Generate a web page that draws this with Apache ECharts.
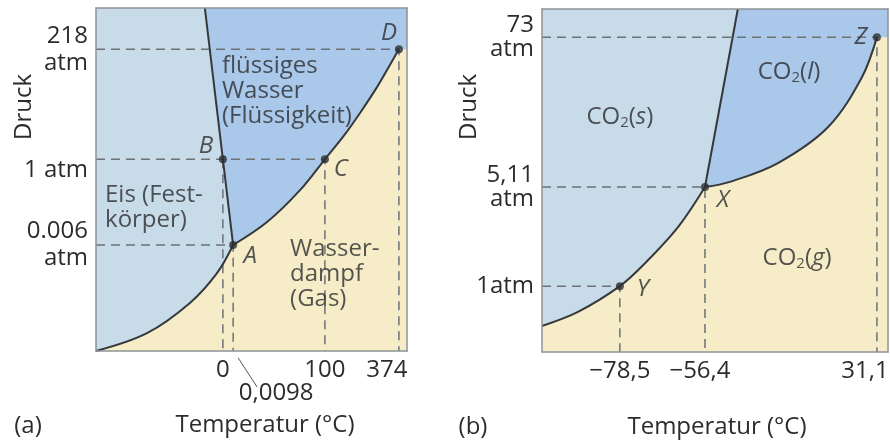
<!DOCTYPE html>
<html><head><meta charset="utf-8">
<script src="https://cdn.jsdelivr.net/npm/echarts@6/dist/echarts.min.js"></script>
<style>html,body{margin:0;padding:0;background:#fff}#c{width:890px;height:445px}</style>
</head><body><div id="c"></div>
<script>
// Schematic phase diagrams (not to scale): both axes run over a schematic 0..100 range.
const X_MIN = 0, X_MAX = 100, Y_MIN = 0, Y_MAX = 100;

// ---------- (a) Wasser ----------
const waterXTickValues = [40.8, 44.1, 73.6, 97.4];
const waterXTickLabels = ['0', '0,0098', '100', '374'];
const waterYTickValues = [30.9, 55.9, 88.0];
const waterYTickLabels = ['0.006\natm', '1 atm', '218\natm'];
const waterPointNames = ['A', 'B', 'C', 'D'];
const waterPoints = [[44.1, 30.9], [40.8, 55.9], [73.6, 55.9], [97.4, 88.0]];
const waterMeltCurve = [[35.0, 100], [40.8, 55.9], [44.1, 30.9]];
const waterSublimationCurve = [[0, 0], [16.4, 5.2], [30.2, 14.0], [38.9, 22.7], [44.1, 30.9]];
const waterVaporCurve = [[44.1, 30.9], [55.0, 37.6], [65.6, 46.9], [73.6, 55.9], [79.4, 62.4], [84.9, 69.4], [90.4, 77.0], [94.5, 83.4], [97.4, 88.0]];
const waterRegionNames = ['flüssiges\nWasser\n(Flüssigkeit)', 'Eis (Fest-\nkörper)', 'Wasser-\ndampf\n(Gas)'];
const waterRegionPos = [[40.5, 75.8], [2.9, 41.7], [62.4, 22.4]];
const waterLeader = [[45.7, -2.0], [51.8, -10.5]];

// ---------- (b) CO2 ----------
const co2XTickValues = [22.5, 47.1, 96.8];
const co2XTickLabels = ['\u221278,5', '\u221256,4', '31,1'];
const co2YTickValues = [19.2, 48.1, 91.8];
const co2YTickLabels = ['1atm', '5,11\natm', '73\natm'];
const co2PointNames = ['Y', 'X', 'Z'];
const co2Points = [[22.5, 19.2], [47.1, 48.1], [96.8, 91.8]];
const co2MeltCurve = [[47.1, 48.1], [56.6, 100]];
const co2SublimationCurve = [[0, 7.6], [10.4, 11.7], [22.5, 19.2], [29.8, 25.9], [39.3, 36.4], [47.1, 48.1]];
const co2VaporCurve = [[47.1, 48.1], [54.3, 49.6], [68.2, 55.1], [82.7, 65.6], [92.5, 80.2], [96.8, 91.8]];
const co2RegionNames = ['CO{sub|2}({it|s})', 'CO{sub|2}({it|l})', 'CO{sub|2}({it|g})'];
const co2RegionPos = [[22.5, 68.5], [71.4, 81.6], [73.7, 27.4]];

// ---------- styles ----------
const FONT = '"Open Sans", "DejaVu Sans", sans-serif';
const ICE = '#c8dbe8', LIQUID = '#a9c8ea', GAS = '#f6edc8';
const CURVE = '#36383b', DASH = '#6c7176', BORDER = '#8d9297', TEXT = '#2a2c2e';
const FS = 24;

const pointLabelOffset = { A: [17, 11], B: [-17, -13], C: [16, 10], D: [-10, -16], X: [18, 13], Y: [23, 3], Z: [-16, 0] };
const waterXRich = { '0,0098': 'low', '374': 'shl' };
const waterYRich = { '1 atm': 'dn' };
const co2XRich = { '\u221256,4': 'shs', '31,1': 'shl' };

function labelFmt(values, labels, richMap) {
  return function (v) {
    let i = values.indexOf(v);
    if (i < 0) { i = values.findIndex(t => Math.abs(t - v) < 1e-6); }
    if (i < 0) return '';
    const k = richMap[labels[i]];
    return k ? '{' + k + '|' + labels[i] + '}' : labels[i];
  };
}
const labelRich = {
  low: { fontSize: FS, fontFamily: FONT, color: TEXT, padding: [23, 0, 0, 86] },
  shl: { fontSize: FS, fontFamily: FONT, color: TEXT, padding: [0, 24, 0, 0] },
  shs: { fontSize: FS, fontFamily: FONT, color: TEXT, padding: [0, 10, 0, 0] },
  dn: { fontSize: FS, fontFamily: FONT, color: TEXT, padding: [22, 0, 0, 0] }
};

function mainX(grid, vals, labels, richMap) {
  return {
    gridIndex: grid, type: 'value', min: X_MIN, max: X_MAX, position: 'bottom', z: 10,
    axisLine: { show: true, onZero: false, lineStyle: { color: BORDER, width: 1.5 } },
    axisTick: { show: false }, splitLine: { show: false },
    axisLabel: { customValues: vals, formatter: labelFmt(vals, labels, richMap), margin: 7,
      fontSize: FS, fontFamily: FONT, color: TEXT, rich: labelRich, hideOverlap: false }
  };
}
function mainY(grid, vals, labels, richMap, lh) {
  return {
    gridIndex: grid, type: 'value', min: Y_MIN, max: Y_MAX, position: 'left', z: 10,
    axisLine: { show: true, onZero: false, lineStyle: { color: BORDER, width: 1.5 } },
    axisTick: { show: false }, splitLine: { show: false },
    axisLabel: { customValues: vals, formatter: labelFmt(vals, labels, richMap), margin: 8,
      fontSize: FS, fontFamily: FONT, color: TEXT, lineHeight: lh, align: 'right', rich: labelRich, hideOverlap: false }
  };
}
function frameAxis(kind, grid, pos) {
  return {
    gridIndex: grid, type: 'value', position: pos, z: 10,
    min: kind === 'x' ? X_MIN : Y_MIN, max: kind === 'x' ? X_MAX : Y_MAX,
    axisLine: { show: true, onZero: false, lineStyle: { color: BORDER, width: 1.5 } },
    axisTick: { show: false }, axisLabel: { show: false }, splitLine: { show: false }
  };
}

function lPath(p) { return [[X_MIN, p[1]], p, [p[0], Y_MIN]]; }
function vPath(p) { return [p, [p[0], Y_MIN]]; }

const SMOOTH = 0.35;

function panelSeries(g, d) {
  const base = { xAxisIndex: g, yAxisIndex: g, silent: true, symbol: 'none', animation: false };
  const s = [];
  // liquid region
  s.push(Object.assign({}, base, { type: 'line', z: 1, data: d.liquid,
    lineStyle: { width: 0 }, areaStyle: { color: LIQUID, opacity: 1, origin: d.liquidOrigin } }));
  // gas region (below sublimation + vaporisation curves)
  [d.sub, d.vap].forEach(c => s.push(Object.assign({}, base, { type: 'line', z: 2, data: c, smooth: SMOOTH,
    lineStyle: { width: 0 }, areaStyle: { color: GAS, opacity: 1, origin: 'start' } })));
  const crit = d.points[d.points.length - 1];
  s.push(Object.assign({}, base, { type: 'line', z: 2, data: [crit, [X_MAX, crit[1]]],
    lineStyle: { width: 0 }, areaStyle: { color: GAS, opacity: 1, origin: 'start' } }));
  // dashed guides
  d.dashed.forEach(path => s.push(Object.assign({}, base, { type: 'line', z: 3, data: path,
    lineStyle: { color: DASH, width: 1.5, type: [9, 6] } })));
  // phase boundaries
  [d.sub, d.vap].forEach(c => s.push(Object.assign({}, base, { type: 'line', z: 4, data: c, smooth: SMOOTH,
    lineStyle: { color: CURVE, width: 2 } })));
  s.push(Object.assign({}, base, { type: 'line', z: 4, data: d.melt, lineStyle: { color: CURVE, width: 2 } }));
  // points with letters
  s.push({ type: 'scatter', xAxisIndex: g, yAxisIndex: g, silent: true, z: 5, animation: false,
    symbol: 'circle', symbolSize: 8, itemStyle: { color: '#2c2e30' },
    data: d.points.map((p, i) => ({ value: p, name: d.names[i],
      label: { offset: pointLabelOffset[d.names[i]] } })),
    label: { show: true, position: 'inside', formatter: '{b}', fontSize: FS, fontStyle: 'italic',
      fontFamily: FONT, color: TEXT } });
  // region names
  s.push({ type: 'scatter', xAxisIndex: g, yAxisIndex: g, silent: true, z: 6, animation: false,
    symbolSize: 0, itemStyle: { color: 'transparent' },
    data: d.regionPos.map((p, i) => ({ value: p, name: d.regionNames[i] })),
    label: { show: true, position: 'inside', formatter: '{b}', align: d.regionAlign, verticalAlign: 'middle',
      fontSize: FS, lineHeight: 25, fontFamily: FONT, color: TEXT,
      rich: { sub: { fontSize: 15, fontFamily: FONT, color: TEXT, padding: [12, 0, 0, 0] },
              it: { fontSize: FS, fontFamily: FONT, color: TEXT, fontStyle: 'italic' } } } });
  return s;
}

const series = [].concat(
  panelSeries(0, {
    liquid: waterMeltCurve.concat([[waterPoints[0][0], Y_MIN], [X_MAX, Y_MIN]]), liquidOrigin: 'end',
    sub: waterSublimationCurve, vap: waterVaporCurve, melt: waterMeltCurve,
    points: waterPoints, names: waterPointNames,
    dashed: [lPath(waterPoints[3]), lPath(waterPoints[2]), vPath(waterPoints[1]), lPath(waterPoints[0])],
    regionNames: waterRegionNames, regionPos: waterRegionPos, regionAlign: 'left'
  }),
  panelSeries(1, {
    liquid: co2MeltCurve.concat([[X_MAX, Y_MAX]]), liquidOrigin: 'start',
    sub: co2SublimationCurve, vap: co2VaporCurve, melt: co2MeltCurve,
    points: co2Points, names: co2PointNames,
    dashed: co2Points.map(lPath),
    regionNames: co2RegionNames, regionPos: co2RegionPos, regionAlign: 'center'
  }),
  [{ type: 'line', xAxisIndex: 0, yAxisIndex: 0, silent: true, symbol: 'none', clip: false, z: 5,
     data: waterLeader, lineStyle: { color: '#555', width: 1 }, animation: false }]
);

function gText(text, x, y, extra) {
  return Object.assign({ type: 'text', x: x, y: y, silent: true, z: 20,
    style: { text: text, fontSize: FS, fontFamily: FONT, fill: TEXT,
      align: 'center', verticalAlign: 'middle', textAlign: 'center', textVerticalAlign: 'middle' } }, extra || {});
}

const chart = echarts.init(document.getElementById('c'), null, { renderer: 'canvas' });
chart.setOption({
  animation: false,
  backgroundColor: '#ffffff',
  grid: [
    { left: 96, top: 8, width: 311, height: 343, show: true, backgroundColor: ICE, borderWidth: 0, outerBoundsMode: 'none', containLabel: false },
    { left: 542, top: 9, width: 346, height: 343, show: true, backgroundColor: ICE, borderWidth: 0, outerBoundsMode: 'none', containLabel: false }
  ],
  xAxis: [
    mainX(0, waterXTickValues, waterXTickLabels, waterXRich),
    mainX(1, co2XTickValues, co2XTickLabels, co2XRich),
    frameAxis('x', 0, 'top'), frameAxis('x', 1, 'top')
  ],
  yAxis: [
    mainY(0, waterYTickValues, waterYTickLabels, waterYRich, 27),
    mainY(1, co2YTickValues, co2YTickLabels, {}, 24),
    frameAxis('y', 0, 'right'), frameAxis('y', 1, 'right')
  ],
  graphic: [
    gText('(a)', 28, 426),
    gText('Temperatur (\u00B0C)', 265, 425),
    gText('Druck', 24, 107, { rotation: Math.PI / 2 }),
    gText('(b)', 473, 427),
    gText('Temperatur (\u00B0C)', 717, 427),
    gText('Druck', 469, 107, { rotation: Math.PI / 2 })
  ],
  series: series
});
</script></body></html>
